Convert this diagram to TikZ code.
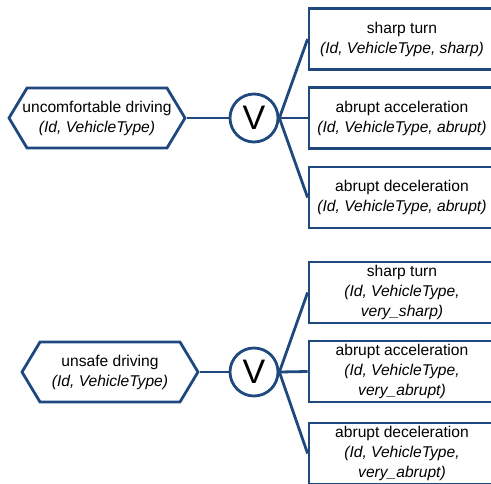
\documentclass[tikz,border=0pt]{standalone}
\usepackage{fontspec}
\setmainfont{Liberation Sans}
\definecolor{treeblue}{RGB}{31,73,125}
\usetikzlibrary{shapes.symbols}

\begin{document}
\begin{tikzpicture}[x=1pt, y=-1pt,
    goal/.style={signal, signal to=east and west, signal pointer angle=118,
      draw=treeblue, line width=2.8pt, minimum width=176pt, minimum height=60pt,
      inner xsep=-6pt, inner ysep=1pt, align=center, font=\fontsize{15.6}{20}\selectfont},
    orgate/.style={circle, draw=treeblue, line width=2.8pt, minimum size=48pt,
      inner sep=0pt, font=\fontsize{34}{34}\selectfont},
    event/.style={rectangle, draw=treeblue, line width=2.8pt, minimum width=186pt,
      minimum height=61pt, inner sep=1pt, align=center,
      font=\fontsize{15.6}{20}\selectfont},
    link/.style={draw=treeblue, line width=2.8pt}
  ]
    \useasboundingbox (0,0) rectangle (491,483);
    % Tree 1: uncomfortable driving
    \node[goal] (g1) at (97,118)
      {uncomfortable driving\\\textit{(Id, VehicleType)}};
    \node[orgate] (or1) at (254,118) {V};
    \node[event] (e11) at (402,39)
      {sharp turn\\\textit{(Id, VehicleType, sharp)}};
    \node[event] (e12) at (402,118)
      {abrupt acceleration\\\textit{(Id, VehicleType, abrupt)}};
    \node[event] (e13) at (402,197.5)
      {abrupt deceleration\\\textit{(Id, VehicleType, abrupt)}};
    % Tree 2: unsafe driving
    \node[goal] (g2) at (110,372)
      {unsafe driving\\\textit{(Id, VehicleType)}};
    \node[orgate] (or2) at (254,372) {V};
    \node[event] (e21) at (402,292.5)
      {sharp turn\\\textit{(Id, VehicleType,}\\\textit{very\_sharp)}};
    \node[event] (e22) at (402,371.5)
      {abrupt acceleration\\\textit{(Id, VehicleType,}\\\textit{very\_abrupt)}};
    \node[event] (e23) at (402,453.5)
      {abrupt deceleration\\\textit{(Id, VehicleType,}\\\textit{very\_abrupt)}};
    % Links
    \draw[link] (g1.east) -- (or1.west);
    \draw[link] (or1.east) -- (e11.west);
    \draw[link] (or1.east) -- (e12.west);
    \draw[link] (or1.east) -- (e13.west);
    \draw[link] (g2.east) -- (or2.west);
    \draw[link] (or2.east) -- (e21.west);
    \draw[link] (or2.east) -- (e22.west);
    \draw[link] (or2.east) -- (e23.west);
  \end{tikzpicture}
\end{document}
